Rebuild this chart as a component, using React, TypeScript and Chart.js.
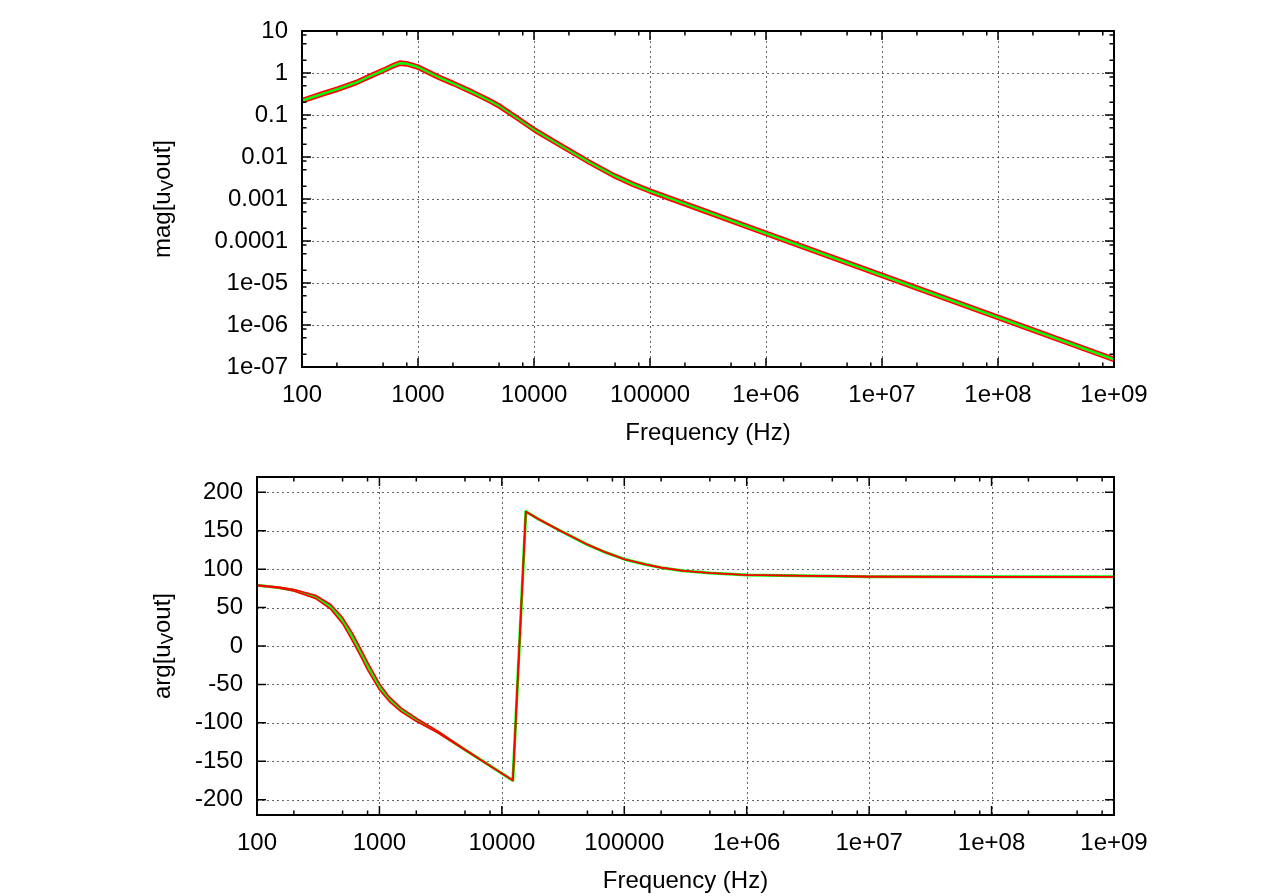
import React, { useEffect, useRef } from 'react';
import { Chart, registerables } from 'chart.js';

Chart.register(...registerables);

const FONT_FAMILY = '"Liberation Sans", Arial, Helvetica, sans-serif';
const FONT_SIZE = 24;
const GREEN = '#00ff00';
const RED = '#ff0000';

// ---- shared frequency axis ----
const FREQ_MIN = 100;
const FREQ_MAX = 1e9;
const FREQ_MAJOR_TICKS = [100, 1000, 1e4, 1e5, 1e6, 1e7, 1e8, 1e9];
const FREQ_TICK_LABELS = ['100', '1000', '10000', '100000', '1e+06', '1e+07', '1e+08', '1e+09'];
const MINOR_MULTIPLIERS = [2, 5, 8];

// ---- magnitude plot ----
const MAG_FREQ = [100, 150, 200, 300, 400, 500, 600, 700, 800, 1000, 1500, 2000, 3000, 4000, 5000, 7000, 10000, 15000, 20000, 30000, 50000, 70000, 100000, 1e6, 1e7, 1e8, 1e9];
const MAG_NOMINAL = [0.22, 0.32, 0.41, 0.61, 0.88, 1.15, 1.46, 1.72, 1.66, 1.38, 0.8, 0.57, 0.34, 0.23, 0.165, 0.088, 0.045, 0.023, 0.0145, 0.0075, 0.0035, 0.0023, 0.00155, 0.000152, 1.52e-5, 1.52e-6, 1.52e-7];
const MAG_UPPER = [0.246, 0.358, 0.459, 0.683, 0.986, 1.29, 1.64, 1.93, 1.86, 1.55, 0.896, 0.638, 0.381, 0.258, 0.185, 0.0986, 0.0504, 0.0258, 0.0162, 0.0084, 0.00392, 0.00258, 0.00174, 0.00017, 1.7e-5, 1.7e-6, 1.7e-7];
const MAG_LOWER = [0.196, 0.285, 0.365, 0.543, 0.783, 1.02, 1.3, 1.53, 1.48, 1.23, 0.712, 0.507, 0.303, 0.205, 0.147, 0.0783, 0.04, 0.0205, 0.0129, 0.00668, 0.00312, 0.00205, 0.00138, 0.000135, 1.35e-5, 1.35e-6, 1.35e-7];
const MAG_MIN = 1e-7;
const MAG_MAX = 10;
const MAG_MAJOR_TICKS = [1e-7, 1e-6, 1e-5, 1e-4, 1e-3, 1e-2, 0.1, 1, 10];
const MAG_TICK_LABELS = ['1e-07', '1e-06', '1e-05', '0.0001', '0.001', '0.01', '0.1', '1', '10'];

// ---- phase plot ----
const ARG_FREQ = [100, 150, 200, 300, 400, 500, 600, 700, 800, 1000, 1200, 1500, 2000, 3000, 5000, 8000, 12300, 15700, 20000, 30000, 50000, 70000, 100000, 150000, 200000, 300000, 500000, 1e6, 1e7, 1e8, 1e9];
const ARG_NOMINAL = [79, 76, 72.5, 64, 51, 33, 12, -8, -26, -53, -69, -83, -96, -112, -135, -156, -175, 175, 165, 150, 132, 122, 113, 106, 102, 98, 95, 92.5, 90.3, 90, 90];
const ARG_UPPER = [79.5, 76.6, 73.5, 66, 54, 37, 17, -3, -21, -49, -66, -80.5, -94, -111, -134.5, -156, -175, 175, 165, 150, 132, 122, 113, 106, 102, 98, 95, 92.5, 90.3, 90, 90];
const ARG_LOWER = [78.5, 75.4, 71.5, 62, 48, 29, 7, -13, -31, -57, -72, -85.5, -98, -113, -135.5, -156, -175, 175, 165, 150, 132, 122, 113, 106, 102, 98, 95, 92.5, 90.3, 90, 90];
const ARG_MIN = -220;
const ARG_MAX = 220;
const ARG_TICKS = [-200, -150, -100, -50, 0, 50, 100, 150, 200];
const ARG_TICK_LABELS = ['-200', '-150', '-100', '-50', '0', '50', '100', '150', '200'];

const FREQ_MINOR = FREQ_MAJOR_TICKS.slice(0, -1).flatMap((d) => MINOR_MULTIPLIERS.map((m) => d * m));
const MAG_MINOR = MAG_MAJOR_TICKS.slice(0, -1).flatMap((d) => MINOR_MULTIPLIERS.map((m) => d * m));

function gnuplotPlugin(xMinor: number[], yMinor: number[], yTitle: [string, string, string], yTitleX: number) {
  return {
    id: 'gnuplotFrame',
    beforeDatasetsDraw(chart: any) {
      const { ctx, chartArea } = chart;
      const { left, right, top, bottom } = chartArea;
      const xs = chart.scales.x;
      const ys = chart.scales.y;
      ctx.save();
      ctx.setLineDash([2, 3]);
      ctx.strokeStyle = 'rgba(0,0,0,0.6)';
      ctx.lineWidth = 1;
      xs.ticks.forEach((t: any) => {
        const p = xs.getPixelForValue(t.value);
        if (p <= left + 2 || p >= right - 2) return;
        const px = Math.round(p) + 0.5;
        ctx.beginPath();
        ctx.moveTo(px, top);
        ctx.lineTo(px, bottom);
        ctx.stroke();
      });
      ys.ticks.forEach((t: any) => {
        const p = ys.getPixelForValue(t.value);
        if (p <= top + 2 || p >= bottom - 2) return;
        const py = Math.round(p) + 0.5;
        ctx.beginPath();
        ctx.moveTo(left, py);
        ctx.lineTo(right, py);
        ctx.stroke();
      });
      ctx.restore();
    },
    afterDatasetsDraw(chart: any) {
      const { ctx, chartArea } = chart;
      const { left, right, top, bottom } = chartArea;
      const xs = chart.scales.x;
      const ys = chart.scales.y;
      ctx.save();
      ctx.strokeStyle = '#000';
      ctx.lineWidth = 1.5;
      const tickX = (v: number, len: number) => {
        const p = xs.getPixelForValue(v);
        ctx.beginPath();
        ctx.moveTo(p, bottom);
        ctx.lineTo(p, bottom - len);
        ctx.moveTo(p, top);
        ctx.lineTo(p, top + len);
        ctx.stroke();
      };
      const tickY = (v: number, len: number) => {
        const p = ys.getPixelForValue(v);
        ctx.beginPath();
        ctx.moveTo(left, p);
        ctx.lineTo(left + len, p);
        ctx.moveTo(right, p);
        ctx.lineTo(right - len, p);
        ctx.stroke();
      };
      xs.ticks.forEach((t: any) => tickX(t.value, 9));
      xMinor.forEach((v) => tickX(v, 4.5));
      ys.ticks.forEach((t: any) => tickY(t.value, 9));
      yMinor.forEach((v) => tickY(v, 4.5));
      ctx.lineWidth = 2;
      ctx.strokeRect(left, top, right - left, bottom - top);
      ctx.restore();
    },
    afterDraw(chart: any) {
      const { ctx, chartArea } = chart;
      const cy = (chartArea.top + chartArea.bottom) / 2;
      ctx.save();
      ctx.translate(yTitleX, cy);
      ctx.rotate(-Math.PI / 2);
      ctx.fillStyle = '#000';
      ctx.textBaseline = 'middle';
      ctx.textAlign = 'left';
      const bigFont = `${FONT_SIZE}px ${FONT_FAMILY}`;
      const subFont = `${Math.round(FONT_SIZE * 0.72)}px ${FONT_FAMILY}`;
      ctx.font = bigFont;
      const w1 = ctx.measureText(yTitle[0]).width;
      const w3 = ctx.measureText(yTitle[2]).width;
      ctx.font = subFont;
      const w2 = ctx.measureText(yTitle[1]).width;
      let x = -(w1 + w2 + w3) / 2;
      ctx.font = bigFont;
      ctx.fillText(yTitle[0], x, 0);
      x += w1;
      ctx.font = subFont;
      ctx.fillText(yTitle[1], x, 5);
      x += w2;
      ctx.font = bigFont;
      ctx.fillText(yTitle[2], x, 0);
      ctx.restore();
    },
  };
}

function makeConfig(kind: 'mag' | 'arg', leftWidth: number, topPad: number): any {
  const isMag = kind === 'mag';
  const freq = isMag ? MAG_FREQ : ARG_FREQ;
  const nominal = isMag ? MAG_NOMINAL : ARG_NOMINAL;
  const upper = isMag ? MAG_UPPER : ARG_UPPER;
  const lower = isMag ? MAG_LOWER : ARG_LOWER;
  const pts = (arr: number[]) => freq.map((f, i) => ({ x: f, y: arr[i] }));
  const font = { family: FONT_FAMILY, size: FONT_SIZE };
  const yMajor = isMag ? MAG_MAJOR_TICKS : ARG_TICKS;
  const yLabels = isMag ? MAG_TICK_LABELS : ARG_TICK_LABELS;
  return {
    type: 'line',
    data: {
      datasets: [
        { label: 'upper', data: pts(upper), borderColor: RED, borderWidth: 1.6, pointRadius: 0, fill: false },
        { label: 'lower', data: pts(lower), borderColor: RED, borderWidth: 1.6, pointRadius: 0, fill: false },
        { label: 'nominal', data: pts(nominal), borderColor: GREEN, borderWidth: 3, pointRadius: 0, fill: false },
      ],
    },
    options: {
      animation: false,
      responsive: false,
      devicePixelRatio: 1,
      layout: { padding: { left: 0, right: 166, top: topPad, bottom: 0 } },
      plugins: { legend: { display: false }, tooltip: { enabled: false } },
      elements: { line: { tension: 0, borderJoinStyle: 'round' }, point: { radius: 0 } },
      scales: {
        x: {
          type: 'logarithmic',
          min: FREQ_MIN,
          max: FREQ_MAX,
          afterBuildTicks: (s: any) => {
            s.ticks = FREQ_MAJOR_TICKS.map((v) => ({ value: v }));
          },
          afterFit: (s: any) => {
            s.height = 81;
          },
          grid: { display: false, drawTicks: false, tickLength: 0 },
          border: { display: false },
          ticks: {
            autoSkip: false,
            maxRotation: 0,
            minRotation: 0,
            padding: 14,
            color: '#000',
            font,
            callback: (_v: any, i: number) => FREQ_TICK_LABELS[i],
          },
          title: {
            display: true,
            text: 'Frequency (Hz)',
            color: '#000',
            font,
            padding: { top: 0, bottom: 0 },
          },
        },
        y: {
          type: isMag ? 'logarithmic' : 'linear',
          min: isMag ? MAG_MIN : ARG_MIN,
          max: isMag ? MAG_MAX : ARG_MAX,
          afterBuildTicks: (s: any) => {
            s.ticks = yMajor.map((v) => ({ value: v }));
          },
          afterFit: (s: any) => {
            s.width = leftWidth;
          },
          grid: { display: false, drawTicks: false, tickLength: 0 },
          border: { display: false },
          ticks: {
            autoSkip: false,
            padding: 14,
            color: '#000',
            font,
            callback: (_v: any, i: number) => yLabels[i],
          },
        },
      },
    },
    plugins: [
      gnuplotPlugin(
        FREQ_MINOR,
        isMag ? MAG_MINOR : [],
        isMag ? ['mag[u', 'V', 'out]'] : ['arg[u', 'V', 'out]'],
        163,
      ),
    ],
  };
}

function PlotCanvas({ kind, top, leftWidth, topPad }: { kind: 'mag' | 'arg'; top: number; leftWidth: number; topPad: number }) {
  const ref = useRef<HTMLCanvasElement | null>(null);
  useEffect(() => {
    if (!ref.current) return;
    const chart = new Chart(ref.current, makeConfig(kind, leftWidth, topPad));
    return () => chart.destroy();
  }, [kind, leftWidth, topPad]);
  return (
    <canvas
      ref={ref}
      width={1280}
      height={448}
      style={{ position: 'absolute', left: 0, top, width: 1280, height: 448, display: 'block' }}
    />
  );
}

export default function App() {
  return (
    <div style={{ position: 'absolute', left: 0, top: 0, width: 1280, height: 896, background: '#fff', overflow: 'hidden' }}>
      <PlotCanvas kind="mag" top={0} leftWidth={302} topPad={31} />
      <PlotCanvas kind="arg" top={448} leftWidth={257} topPad={29} />
    </div>
  );
}
